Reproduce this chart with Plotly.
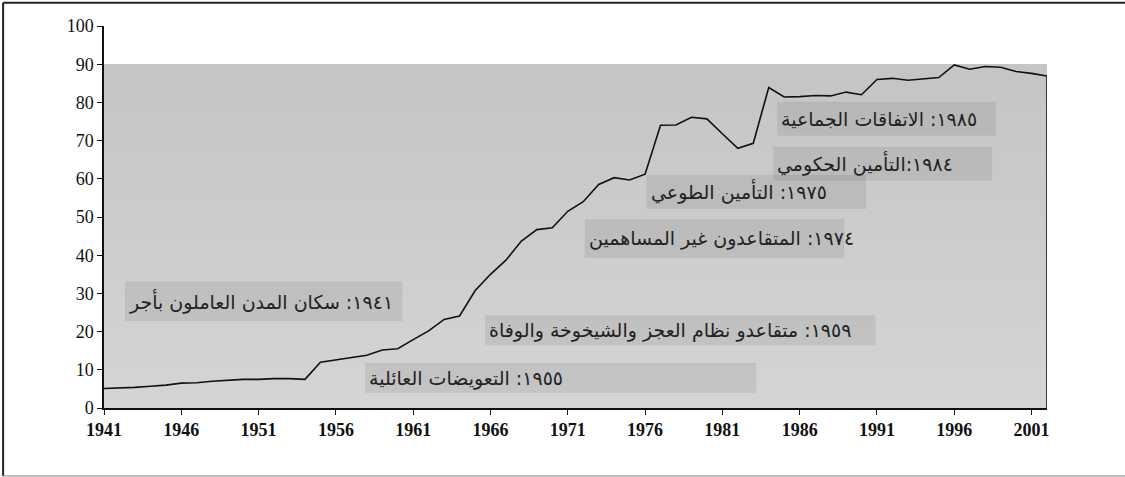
import plotly.graph_objects as go

# coverage share (%) by year
years = list(range(1941, 2003))
coverage = [5.1, 5.2, 5.4, 5.7, 6.0, 6.5, 6.6, 7.0, 7.3, 7.5,
            7.5, 7.7, 7.7, 7.5, 12.0, 12.6, 13.1, 13.8, 15.2, 15.5,
            17.9, 20.2, 23.2, 24.1, 30.7, 35.0, 38.7, 43.7, 46.7, 47.2,
            51.5, 54.0, 58.5, 60.3, 59.7, 61.2, 74.0, 74.1, 76.1, 75.7,
            71.8, 68.0, 69.3, 83.9, 81.4, 81.5, 81.8, 81.7, 82.7, 82.0,
            86.0, 86.3, 85.8, 86.1, 86.5, 89.8, 88.7, 89.4, 89.2, 88.1,
            87.6, 86.9]

xtick_vals = list(range(1941, 2002, 5))
ytick_vals = list(range(0, 101, 10))

# milestone labels
labels = [
    "١٩٧٥: التأمين الطوعي",
    "١٩٨٥: الاتفاقات الجماعية",
    "١٩٨٤:التأمين الحكومي",
    "١٩٧٤: المتقاعدون غير المساهمين",
    "١٩٤١: سكان المدن العاملون بأجر",
    "١٩٥٩: متقاعدو نظام العجز والشيخوخة والوفاة",
    "١٩٥٥: التعويضات العائلية",
]
# box extents (x0, x1, y0, y1) in axis units
boxes = [
    (1976.1, 1990.3, 52.1, 61.0),
    (1984.55, 1998.7, 71.3, 80.2),
    (1984.3, 1998.45, 59.5, 68.4),
    (1972.1, 1988.9, 39.2, 49.4),
    (1942.35, 1960.3, 22.8, 33.2),
    (1965.65, 1990.9, 16.4, 24.3),
    (1957.9, 1983.2, 3.9, 11.8),
]

fig = go.Figure()
fig.add_trace(go.Scatter(x=years, y=coverage, mode="lines",
                         line=dict(color="#111", width=1.6),
                         hoverinfo="skip", showlegend=False))

shapes = []
# grey backdrop with a soft vertical gradient (overlapping bands, no seams)
n = 40
for i in range(n):
    c = int(0xd5 - (0xd5 - 0xc5) * i / (n - 1))
    shapes.append(dict(type="rect", xref="x", yref="y", layer="below",
                       x0=years[0], x1=years[-1], y0=90 * i / n, y1=90,
                       fillcolor=f"rgb({c},{c},{c})", line_width=0))
for x0, x1, y0, y1 in boxes:
    shapes.append(dict(type="rect", xref="x", yref="y", layer="below",
                       x0=x0, x1=x1, y0=y0, y1=y1,
                       fillcolor="rgba(0,0,0,0.075)", line_width=0))
# closing edge of the area at the last year
shapes.append(dict(type="line", xref="x", yref="y", x0=years[-1], x1=years[-1],
                   y0=0, y1=coverage[-1], line=dict(color="#111", width=1.6)))
# outer frame
shapes.append(dict(type="line", xref="paper", yref="paper", x0=-0.107, x1=1.09,
                   y0=1.061, y1=1.061, line=dict(color="#222", width=2)))
shapes.append(dict(type="line", xref="paper", yref="paper", x0=-0.107, x1=-0.107,
                   y0=-0.178, y1=1.061, line=dict(color="#222", width=2)))
shapes.append(dict(type="line", xref="paper", yref="paper", x0=-0.107, x1=1.09,
                   y0=-0.178, y1=-0.178, line=dict(color="#aaa", width=1.5)))

annotations = []
for text, (x0, x1, y0, y1) in zip(labels, boxes):
    annotations.append(dict(x=x0, y=(y0 + y1) / 2, xref="x", yref="y",
                            text=text, showarrow=False, xanchor="left",
                            yanchor="middle", xshift=2,
                            font=dict(family="DejaVu Sans", size=19, color="#222")))

fig.update_layout(
    width=1125, height=477,
    margin=dict(l=104, r=78, t=26, b=69),
    paper_bgcolor="white", plot_bgcolor="white",
    shapes=shapes, annotations=annotations,
    xaxis=dict(range=[1941, 2002], tickvals=xtick_vals, showgrid=False, zeroline=False,
               showline=True, linecolor="#111", linewidth=1.5,
               ticks="outside", ticklen=5, tickcolor="#111",
               tickfont=dict(family="Liberation Serif", size=18, color="#111", weight="bold")),
    yaxis=dict(range=[0, 100], tickvals=ytick_vals, showgrid=False, zeroline=False,
               showline=True, linecolor="#111", linewidth=1.5,
               ticks="outside", ticklen=5, tickcolor="#111",
               tickfont=dict(family="Liberation Serif", size=18, color="#111")),
)

fig.write_html("out.html", config={"displayModeBar": False},
               post_script="document.body.style.margin='0';")
